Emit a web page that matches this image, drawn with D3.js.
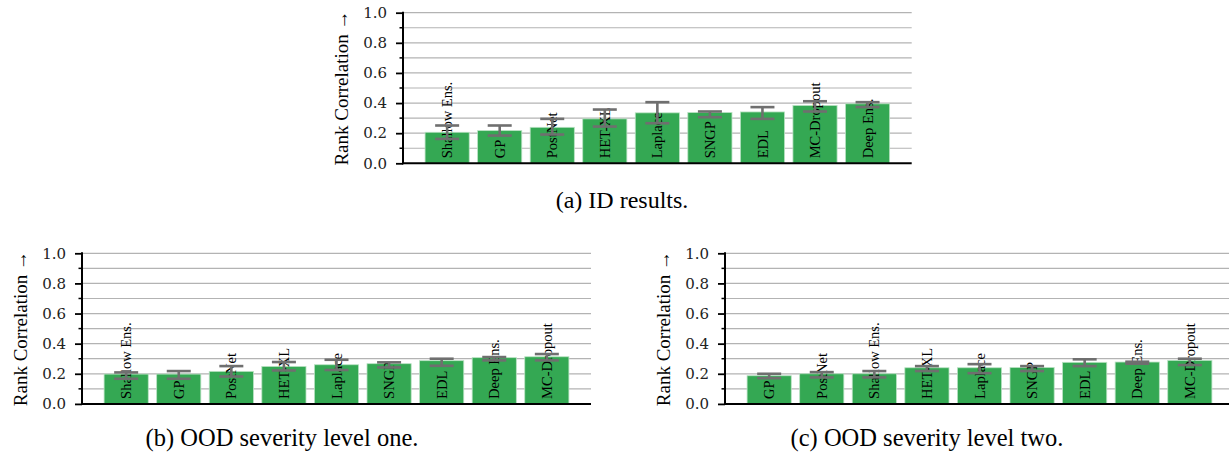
<!DOCTYPE html>
<html>
<head>
<meta charset="utf-8">
<script src="https://cdn.jsdelivr.net/npm/d3@7"></script>
<style>
  body { margin: 0; background: #fff; }
  svg { display: block; }
</style>
</head>
<body>
<script>
const W = 1229
const H = 453

// (a) ID results
const idMethods = ['Shallow Ens.', 'GP', 'PostNet', 'HET-XL', 'Laplace', 'SNGP', 'EDL', 'MC-Dropout', 'Deep Ens.']
const idMean = [0.206, 0.217, 0.239, 0.295, 0.335, 0.337, 0.341, 0.384, 0.395]
const idLow = [0.162, 0.184, 0.191, 0.244, 0.266, 0.306, 0.295, 0.344, 0.373]
const idHigh = [0.251, 0.251, 0.295, 0.357, 0.406, 0.344, 0.373, 0.412, 0.406]

// (b) OOD severity level one
const ood1Methods = ['Shallow Ens.', 'GP', 'PostNet', 'HET-XL', 'Laplace', 'SNGP', 'EDL', 'Deep Ens.', 'MC-Dropout']
const ood1Mean = [0.198, 0.198, 0.216, 0.249, 0.26, 0.267, 0.287, 0.307, 0.313]
const ood1Low = [0.167, 0.167, 0.182, 0.222, 0.225, 0.242, 0.253, 0.289, 0.289]
const ood1High = [0.209, 0.218, 0.251, 0.278, 0.293, 0.276, 0.3, 0.311, 0.331]

// (c) OOD severity level two
const ood2Methods = ['GP', 'PostNet', 'Shallow Ens.', 'HET-XL', 'Laplace', 'SNGP', 'EDL', 'Deep Ens.', 'MC-Dropout']
const ood2Mean = [0.187, 0.2, 0.2, 0.24, 0.24, 0.242, 0.276, 0.278, 0.289]
const ood2Low = [0.171, 0.176, 0.176, 0.218, 0.204, 0.218, 0.251, 0.267, 0.258]
const ood2High = [0.2, 0.211, 0.218, 0.251, 0.264, 0.251, 0.296, 0.28, 0.3]

const yTicks = [0, 0.2, 0.4, 0.6, 0.8, 1.0]
const yMinorTicks = [0.1, 0.3, 0.5, 0.7, 0.9]
const yLabel = 'Rank Correlation \u2192'

const BAR_COLOR = '#34a853'
const ERR_COLOR = '#6f6f6f'
const GRID_COLOR = '#b3b3b3'
const SERIF = '"Liberation Serif", "Times New Roman", serif'
const TICK_FONT = '"DejaVu Serif", serif'

const svg = d3.select('body').append('svg')
  .attr('width', W)
  .attr('height', H)

function drawPanel(p, methods, mean, low, high) {
  const x = d3.scaleBand()
    .domain(methods)
    .range([p.left, p.right])
    .paddingInner(0.16)
    .paddingOuter(0.42)
  const y = d3.scaleLinear().domain([0, 1]).range([p.bottom, p.top])

  const g = svg.append('g')
  const rows = methods.map((m, i) => ({ m, v: mean[i], lo: low[i], hi: high[i] }))

  // grid (major + minor)
  g.append('g')
    .selectAll('line')
    .data(yTicks.concat(yMinorTicks).filter(t => t > 0))
    .enter()
    .append('line')
    .attr('x1', p.left)
    .attr('x2', p.right)
    .attr('y1', d => y(d))
    .attr('y2', d => y(d))
    .attr('stroke', GRID_COLOR)
    .attr('stroke-width', 1.2)

  // bars
  g.append('g')
    .selectAll('rect')
    .data(rows)
    .enter()
    .append('rect')
    .attr('x', d => x(d.m))
    .attr('y', d => y(d.v))
    .attr('width', x.bandwidth())
    .attr('height', d => y(0) - y(d.v))
    .attr('fill', BAR_COLOR)
    .attr('stroke', '#b9e2c3')
    .attr('stroke-width', 0.8)

  // method names inside bars
  g.append('g')
    .selectAll('text')
    .data(rows)
    .enter()
    .append('text')
    .attr('transform', d => `translate(${x(d.m) + x.bandwidth() / 2},${y(0) - 5}) rotate(-90)`)
    .attr('dy', '0.35em')
    .attr('font-family', SERIF)
    .attr('font-size', 14.5)
    .attr('fill', '#000')
    .text(d => d.m)

  // error bars
  const eg = g.append('g')
    .attr('stroke', ERR_COLOR)
    .attr('stroke-width', 2.6)
  const cap = 12
  rows.forEach(d => {
    const cx = x(d.m) + x.bandwidth() / 2
    eg.append('line').attr('x1', cx).attr('x2', cx).attr('y1', y(d.lo)).attr('y2', y(d.hi))
    eg.append('line').attr('x1', cx - cap).attr('x2', cx + cap).attr('y1', y(d.lo)).attr('y2', y(d.lo))
    eg.append('line').attr('x1', cx - cap).attr('x2', cx + cap).attr('y1', y(d.hi)).attr('y2', y(d.hi))
  })

  // y axis
  const yAxis = d3.axisLeft(y)
    .tickValues(yTicks)
    .tickFormat(d3.format('.1f'))
    .tickSize(7)
    .tickPadding(9)
  const ax = g.append('g')
    .attr('transform', `translate(${p.left},0)`)
    .call(yAxis)
  ax.select('.domain').remove()
  ax.selectAll('.tick line').attr('stroke', '#000').attr('stroke-width', 1.8)
  ax.selectAll('.tick text')
    .attr('font-family', TICK_FONT)
    .attr('font-size', 15)
    .attr('fill', '#222')

  g.append('g')
    .selectAll('line')
    .data(yMinorTicks)
    .enter()
    .append('line')
    .attr('x1', p.left - 3.5)
    .attr('x2', p.left)
    .attr('y1', d => y(d))
    .attr('y2', d => y(d))
    .attr('stroke', '#000')
    .attr('stroke-width', 1.5)

  // spines
  g.append('line')
    .attr('x1', p.left).attr('x2', p.left)
    .attr('y1', y(1) - 1).attr('y2', y(0) + 1)
    .attr('stroke', '#000').attr('stroke-width', 2)
  g.append('line')
    .attr('x1', p.left - 1).attr('x2', p.right)
    .attr('y1', y(0)).attr('y2', y(0))
    .attr('stroke', '#000').attr('stroke-width', 2)

  // y label
  g.append('text')
    .attr('transform', `translate(${p.left - 62},${(y(0) + y(1)) / 2}) rotate(-90)`)
    .attr('text-anchor', 'middle')
    .attr('dy', '0.35em')
    .attr('font-family', SERIF)
    .attr('font-size', 19)
    .attr('fill', '#000')
    .text(yLabel)

  // caption
  svg.append('text')
    .attr('x', p.capX)
    .attr('y', p.capY)
    .attr('text-anchor', 'middle')
    .attr('font-family', SERIF)
    .attr('font-size', p.capSize)
    .attr('fill', '#000')
    .text(p.caption)
}

drawPanel({ left: 403, right: 911.7, top: 12.7, bottom: 163.3, capX: 622, capY: 208, capSize: 24, caption: '(a) ID results.' },
  idMethods, idMean, idLow, idHigh)
drawPanel({ left: 82, right: 591, top: 253.3, bottom: 403.9, capX: 282, capY: 446, capSize: 24.5, caption: '(b) OOD severity level one.' },
  ood1Methods, ood1Mean, ood1Low, ood1High)
drawPanel({ left: 725, right: 1234, top: 253.3, bottom: 403.9, capX: 927, capY: 446, capSize: 24.5, caption: '(c) OOD severity level two.' },
  ood2Methods, ood2Mean, ood2Low, ood2High)
</script>
</body>
</html>
